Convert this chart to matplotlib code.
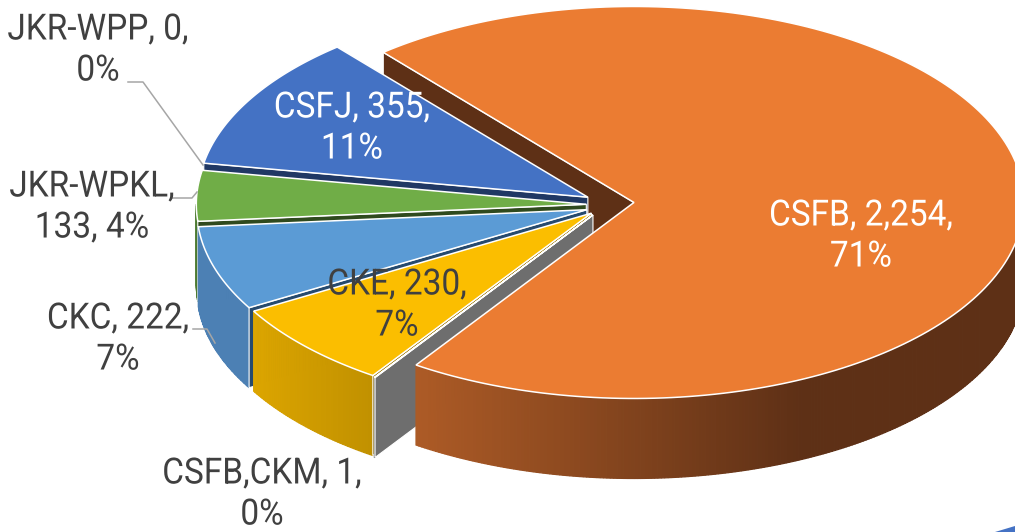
#!/usr/bin/env python3
# -*- coding: utf-8 -*-
# Pseudo-3D exploded pie, drawn on a pixel-sized axes
import numpy as np
import matplotlib
matplotlib.use('Agg')
import matplotlib.pyplot as plt
from matplotlib.colors import to_rgb
from matplotlib.patheffects import AbstractPathEffect
from matplotlib.transforms import Affine2D

# ── Data ─────────────────────────────────────────────────────────
names  = ['CSFB', 'CSFB,CKM', 'CKE', 'CKC', 'JKR-WPKL', 'JKR-WPP', 'CSFJ']
values = [2254, 1, 230, 222, 133, 0, 355]
labels = ['CSFB, 2,254,\n71%', 'CSFB,CKM, 1,\n0%', 'CKE, 230,\n7%', 'CKC, 222,\n7%',
          'JKR-WPKL,\n133, 4%', 'JKR-WPP, 0,\n0%', 'CSFJ, 355,\n11%']

# ── Style ────────────────────────────────────────────────────────
top_colors  = ['#EB7C32', '#A5A5A5', '#FBBE00', '#5B9BD5', '#70AD47', '#264478', '#4472C4']
edge_colors = ['#5E3016', '#6E6E6E', '#9A7400', '#264A6E', '#2F4A1E', '#203864', '#203864']
rim_from    = ['#AD5B26', '#6E6E6E', '#DCA500', '#4C80B4', '#4C7A30', '#203864', '#203864']
rim_to      = ['#5E3016', '#6E6E6E', '#C09000', '#4C80B4', '#4C7A30', '#203864', '#203864']
rim_x_range = [(415, 800), (0, 1), (253, 375), (197, 250), (190, 200), (0, 1), (0, 1)]
label_xy    = [(861, 236), (262, 494), (397, 305), (118, 339), (92, 207), (98, 50), (352, 128)]
label_color = ['white', '#404040', '#404040', '#404040', '#404040', '#404040', 'white']
explode     = [4.0, 1.0, 1.0, 1.3, 1.3, 1.0, 1.3]

CX, CY   = 598, 205     # pie centre, px
RX, RY   = 390, 196     # top ellipse
DEPTH    = 80
EX, EY   = 9, 12        # explode unit, px
START    = 130.0        # degrees, going clockwise
FONT     = ['Roboto', 'DejaVu Sans']
FONTSIZE = 26
SQUEEZE  = 0.925        # reference text is slightly condensed


class Squeeze(AbstractPathEffect):
    # narrows the glyph outlines around the middle of the text
    def __init__(self, xs, cx):
        super().__init__()
        self.xs, self.cx = xs, cx

    def draw_path(self, renderer, gc, tpath, affine, rgbFace=None):
        sq = Affine2D().translate(-self.cx, 0).scale(self.xs, 1).translate(self.cx, 0)
        renderer.draw_path(gc, tpath, affine + sq, rgbFace)


fig = plt.figure(figsize=(10.15, 5.32), dpi=100)
ax = fig.add_axes([0, 0, 1, 1])
ax.set_xlim(0, 1015)
ax.set_ylim(532, 0)
ax.axis('off')

# angles of each slice, clockwise so every end is below its start
total = sum(values)
spans = [v / total * 360 for v in values]
starts = START - np.concatenate(([0], np.cumsum(spans)[:-1]))
ends = starts - np.array(spans)


def apex(i):
    mid = np.radians((starts[i] + ends[i]) / 2)
    return CX + explode[i] * EX * np.cos(mid), CY - explode[i] * EY * np.sin(mid)


def rim_pts(i, a0, a1, n=120):
    ang = np.radians(np.linspace(a0, a1, n))
    x0, y0 = apex(i)
    return x0 + RX * np.cos(ang), y0 - RY * np.sin(ang)


def draw_top(i, zorder):
    x0, y0 = apex(i)
    x, y = rim_pts(i, starts[i], ends[i], 200)
    ax.fill(np.r_[x0, x], np.r_[y0, y], fc=top_colors[i], ec='white', lw=1.1,
            joinstyle='miter', zorder=zorder)


def draw_radial_wall(i, angle, zorder):
    x0, y0 = apex(i)
    x, y = rim_pts(i, angle, angle, 2)
    ax.fill([x0, x[0], x[0], x0], [y0, y[0], y[0] + DEPTH, y0 + DEPTH],
            fc=edge_colors[i], ec='white', lw=0.8, zorder=zorder)


def draw_rim(i, zorder):
    # outer wall, only the part that faces the viewer, shaded along x
    a0, a1 = min(starts[i], 0), max(ends[i], -180)
    if a0 <= a1:
        return
    c0, c1 = np.array(to_rgb(rim_from[i])), np.array(to_rgb(rim_to[i]))
    x_from, x_to = rim_x_range[i]
    steps = np.linspace(a0, a1, int((a0 - a1) / 0.5) + 2)
    for s0, s1 in zip(steps[:-1], steps[1:]):
        x, y = rim_pts(i, s0, s1, 4)
        t = np.clip((x.mean() - x_from) / (x_to - x_from), 0, 1)
        col = c0 + (c1 - c0) * t
        ax.fill(np.r_[x, x[::-1]], np.r_[y, y[::-1] + DEPTH], fc=col, ec=col, lw=0.9,
                zorder=zorder)


# ── Back to front ────────────────────────────────────────────────
# orange back wall goes first, everything else covers it
draw_radial_wall(0, starts[0], 1)

z = 2
for i in [6, 4, 3, 2, 1]:
    draw_rim(i, z)
    draw_radial_wall(i, starts[i], z + 0.2)
    draw_top(i, z + 0.5)
    z += 1

# orange rim and top sit in front of the grey wall
draw_rim(0, z)
draw_top(0, z + 1)

# corner of another shape on the slide
ax.fill([995, 1015, 1015], [532, 526, 532], fc='#4472C4', ec='none', zorder=1)

# ── Leader lines ─────────────────────────────────────────────────
ax.plot([128, 143, 203], [82, 82, 165], color='#A6A6A6', lw=1.1, zorder=10)
ax.plot([172, 192, 197], [198, 198, 192], color='#A6A6A6', lw=1.1, zorder=10)
ax.plot([193, 207, 215], [329, 329, 343], color='#A6A6A6', lw=1.1, zorder=10)

# ── Labels ───────────────────────────────────────────────────────
for lab, (tx, ty), col in zip(labels, label_xy, label_color):
    t = ax.text(tx, ty, lab, ha='center', va='center', color=col, family=FONT,
                fontsize=FONTSIZE, linespacing=1.18, zorder=20)
    cx_px = ax.transData.transform((tx, ty))[0]
    t.set_path_effects([Squeeze(SQUEEZE, cx_px)])

fig.savefig('out.png', dpi=100)
plt.close(fig)
